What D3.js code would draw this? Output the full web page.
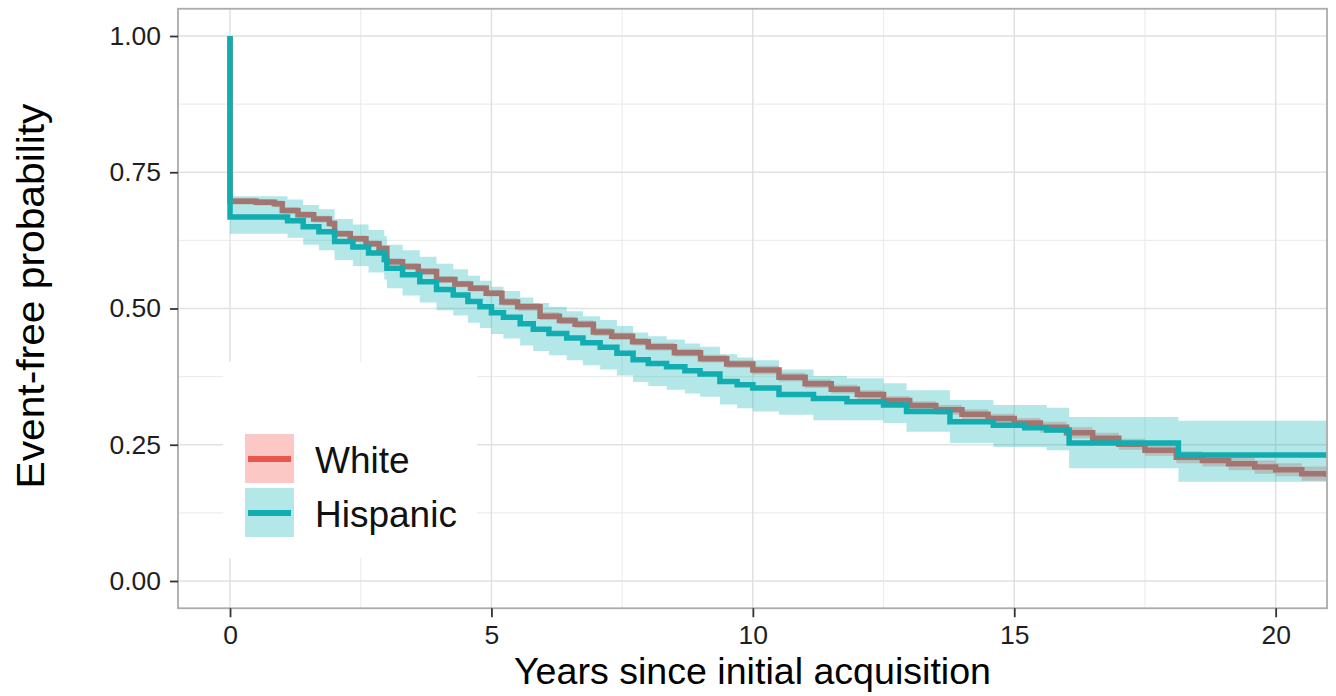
<!DOCTYPE html>
<html>
<head>
<meta charset="utf-8">
<script src="https://cdn.jsdelivr.net/npm/d3@7"></script>
<style>
  body { margin: 0; background: #fff; }
  text { font-family: "Liberation Sans", Arial, sans-serif; }
</style>
</head>
<body>
<script>
// Kaplan-Meier curves (years, event-free probability)
var whiteTime = [0, 0, 0.5, 0.85, 1.0, 1.3, 1.6, 1.9, 2.0, 2.3, 2.6, 2.85, 3.0, 3.3, 3.6, 3.95, 4.3, 4.6, 4.9, 5.2, 5.5, 5.93, 6.3, 6.6, 6.95, 7.3, 7.7, 8.0, 8.5, 9.0, 9.5, 10.0, 10.5, 11.0, 11.5, 12.0, 12.5, 13.0, 13.5, 14.0, 14.5, 15.0, 15.5, 16.0, 16.5, 17.0, 17.5, 18.1, 18.6, 19.1, 19.6, 20.0, 20.5, 20.98];
var whiteSurv = [1.000, 0.697, 0.695, 0.692, 0.680, 0.672, 0.664, 0.656, 0.637, 0.628, 0.619, 0.610, 0.586, 0.577, 0.568, 0.553, 0.545, 0.537, 0.528, 0.512, 0.503, 0.486, 0.478, 0.471, 0.457, 0.449, 0.439, 0.430, 0.419, 0.408, 0.398, 0.387, 0.374, 0.362, 0.352, 0.342, 0.331, 0.322, 0.314, 0.306, 0.298, 0.290, 0.282, 0.272, 0.262, 0.251, 0.240, 0.227, 0.221, 0.215, 0.209, 0.204, 0.197, 0.191];
var whiteLo = [1.000, 0.691, 0.689, 0.686, 0.674, 0.666, 0.658, 0.650, 0.631, 0.622, 0.613, 0.604, 0.580, 0.571, 0.562, 0.547, 0.539, 0.531, 0.522, 0.505, 0.496, 0.479, 0.471, 0.464, 0.450, 0.442, 0.432, 0.423, 0.412, 0.401, 0.391, 0.379, 0.366, 0.354, 0.344, 0.334, 0.323, 0.314, 0.305, 0.297, 0.289, 0.281, 0.272, 0.262, 0.252, 0.241, 0.230, 0.216, 0.210, 0.203, 0.197, 0.192, 0.184, 0.178];
var whiteHi = [1.000, 0.703, 0.701, 0.698, 0.686, 0.678, 0.670, 0.662, 0.643, 0.634, 0.625, 0.616, 0.592, 0.583, 0.574, 0.559, 0.551, 0.543, 0.534, 0.519, 0.510, 0.493, 0.485, 0.478, 0.464, 0.456, 0.446, 0.437, 0.426, 0.415, 0.405, 0.395, 0.382, 0.370, 0.360, 0.350, 0.339, 0.330, 0.323, 0.315, 0.307, 0.299, 0.292, 0.282, 0.272, 0.261, 0.250, 0.238, 0.232, 0.227, 0.221, 0.216, 0.210, 0.204];

var hispTime = [0, 0, 0.95, 1.1, 1.4, 1.7, 2.0, 2.35, 2.65, 2.95, 3.0, 3.3, 3.63, 3.95, 4.27, 4.55, 4.78, 5.0, 5.23, 5.55, 5.8, 6.1, 6.44, 6.75, 7.08, 7.4, 7.71, 8.0, 8.35, 8.7, 8.99, 9.37, 9.7, 10.0, 10.5, 11.16, 11.8, 12.5, 12.94, 13.77, 14.6, 15.2, 15.62, 16.05, 18.14, 20.98];
var hispSurv = [1.000, 0.668, 0.668, 0.661, 0.650, 0.641, 0.623, 0.613, 0.602, 0.590, 0.574, 0.562, 0.549, 0.535, 0.525, 0.513, 0.503, 0.492, 0.484, 0.472, 0.462, 0.454, 0.446, 0.437, 0.429, 0.418, 0.406, 0.399, 0.393, 0.386, 0.380, 0.366, 0.360, 0.354, 0.342, 0.335, 0.329, 0.323, 0.311, 0.292, 0.286, 0.281, 0.277, 0.253, 0.231, 0.231];
var hispLo = [1.000, 0.637, 0.637, 0.630, 0.617, 0.607, 0.589, 0.578, 0.566, 0.553, 0.537, 0.524, 0.511, 0.497, 0.487, 0.474, 0.464, 0.453, 0.445, 0.432, 0.422, 0.414, 0.405, 0.396, 0.388, 0.377, 0.365, 0.358, 0.351, 0.344, 0.338, 0.324, 0.317, 0.311, 0.305, 0.295, 0.295, 0.290, 0.274, 0.253, 0.246, 0.246, 0.240, 0.207, 0.182, 0.182];
var hispHi = [1.000, 0.706, 0.706, 0.700, 0.690, 0.682, 0.664, 0.654, 0.644, 0.633, 0.617, 0.607, 0.595, 0.582, 0.572, 0.560, 0.551, 0.540, 0.532, 0.520, 0.510, 0.503, 0.495, 0.486, 0.479, 0.468, 0.456, 0.449, 0.443, 0.436, 0.430, 0.416, 0.410, 0.405, 0.388, 0.376, 0.372, 0.363, 0.350, 0.332, 0.323, 0.323, 0.318, 0.301, 0.294, 0.294];

var groups = ["White", "Hispanic"];
var xTicks = [0, 5, 10, 15, 20];
var yTicks = [0, 0.25, 0.5, 0.75, 1];
var xMinor = [2.5, 7.5, 12.5, 17.5];
var yMinor = [0.125, 0.375, 0.625, 0.875];

var width = 1336, height = 696;
var panel = { left: 178, right: 1327, top: 8.75, bottom: 608.25 };
var lineCol = { White: "#E8574E", Hispanic: "#12ADB0" };
var fillCol = { White: "#F8766D", Hispanic: "#14B4B8" };
var fillOp = { White: 0.4, Hispanic: 0.32 };

var x = d3.scaleLinear().domain([-0.995, 20.982]).range([panel.left, panel.right]);
var y = d3.scaleLinear().domain([-0.05, 1.05]).range([panel.bottom, panel.top]);

var svg = d3.select("body").append("svg")
  .attr("width", width)
  .attr("height", height);

svg.append("defs").append("clipPath").attr("id", "clip")
  .append("rect")
  .attr("x", panel.left).attr("y", panel.top)
  .attr("width", panel.right - panel.left)
  .attr("height", panel.bottom - panel.top);

// grid
var grid = svg.append("g");
grid.selectAll(".ymin").data(yMinor).enter().append("line")
  .attr("x1", panel.left).attr("x2", panel.right)
  .attr("y1", function(d) { return y(d); }).attr("y2", function(d) { return y(d); })
  .attr("stroke", "#ededed").attr("stroke-width", 1.2);
grid.selectAll(".xmin").data(xMinor).enter().append("line")
  .attr("y1", panel.top).attr("y2", panel.bottom)
  .attr("x1", function(d) { return x(d); }).attr("x2", function(d) { return x(d); })
  .attr("stroke", "#ededed").attr("stroke-width", 1.2);
grid.selectAll(".ymaj").data(yTicks).enter().append("line")
  .attr("x1", panel.left).attr("x2", panel.right)
  .attr("y1", function(d) { return y(d); }).attr("y2", function(d) { return y(d); })
  .attr("stroke", "#e1e1e1").attr("stroke-width", 1.5);
grid.selectAll(".xmaj").data(xTicks).enter().append("line")
  .attr("y1", panel.top).attr("y2", panel.bottom)
  .attr("x1", function(d) { return x(d); }).attr("x2", function(d) { return x(d); })
  .attr("stroke", "#e1e1e1").attr("stroke-width", 1.5);

function rows(t, s, lo, hi) {
  return t.map(function(d, i) { return { t: d, s: s[i], lo: lo[i], hi: hi[i] }; });
}
var series = {
  White: rows(whiteTime, whiteSurv, whiteLo, whiteHi),
  Hispanic: rows(hispTime, hispSurv, hispLo, hispHi)
};

var line = d3.line().curve(d3.curveStepAfter)
  .x(function(d) { return x(d.t); })
  .y(function(d) { return y(d.s); });
var area = d3.area().curve(d3.curveStepAfter)
  .x(function(d) { return x(d.t); })
  .y0(function(d) { return y(d.lo); })
  .y1(function(d) { return y(d.hi); });

var plot = svg.append("g").attr("clip-path", "url(#clip)");
// order: white ribbon, white line, hispanic ribbon, hispanic line
groups.forEach(function(g) {
  plot.append("path").datum(series[g])
    .attr("d", area)
    .attr("fill", fillCol[g])
    .attr("fill-opacity", fillOp[g]);
  plot.append("path").datum(series[g])
    .attr("d", line)
    .attr("fill", "none")
    .attr("stroke", lineCol[g])
    .attr("stroke-width", 5.5);
});

// legend
var legend = svg.append("g");
legend.append("rect")
  .attr("x", 223).attr("y", 362).attr("width", 254).attr("height", 196)
  .attr("fill", "#fff");
var legendTop = [434, 488];
groups.forEach(function(g, i) {
  var k = legend.append("g").attr("transform", "translate(245," + legendTop[i] + ")");
  k.append("rect").attr("width", 49).attr("height", 49)
    .attr("fill", fillCol[g]).attr("fill-opacity", fillOp[g]);
  k.append("line").attr("x1", 3).attr("x2", 46).attr("y1", 25).attr("y2", 25)
    .attr("stroke", lineCol[g]).attr("stroke-width", 6);
  k.append("text").attr("x", 70).attr("y", 39)
    .attr("font-size", 37).attr("fill", "#111")
    .text(g);
});

// panel border
svg.append("rect")
  .attr("x", panel.left).attr("y", panel.top)
  .attr("width", panel.right - panel.left)
  .attr("height", panel.bottom - panel.top)
  .attr("fill", "none").attr("stroke", "#ababab").attr("stroke-width", 1.8);

// axes
var xAxis = svg.append("g")
  .attr("transform", "translate(0," + panel.bottom + ")")
  .call(d3.axisBottom(x).tickValues(xTicks).tickSize(9).tickPadding(8).tickFormat(d3.format("d")));
var yAxis = svg.append("g")
  .attr("transform", "translate(" + panel.left + ",0)")
  .call(d3.axisLeft(y).tickValues(yTicks).tickSize(8).tickPadding(9).tickFormat(d3.format(".2f")));
[xAxis, yAxis].forEach(function(a) {
  a.select(".domain").remove();
  a.selectAll(".tick line").attr("stroke", "#333").attr("stroke-width", 1.8);
  a.selectAll(".tick text").attr("font-size", 26.5).attr("fill", "#1e1e1e")
    .attr("font-family", "Liberation Sans, Arial, sans-serif");
});

// titles
svg.append("text")
  .attr("x", (panel.left + panel.right) / 2).attr("y", 684)
  .attr("text-anchor", "middle")
  .attr("font-size", 37)
  .attr("textLength", 477).attr("lengthAdjust", "spacingAndGlyphs")
  .attr("fill", "#000")
  .text("Years since initial acquisition");
svg.append("text")
  .attr("transform", "translate(44,296) rotate(-90)")
  .attr("text-anchor", "middle")
  .attr("font-size", 39)
  .attr("textLength", 385).attr("lengthAdjust", "spacingAndGlyphs")
  .attr("fill", "#000")
  .text("Event-free probability");
</script>
</body>
</html>
